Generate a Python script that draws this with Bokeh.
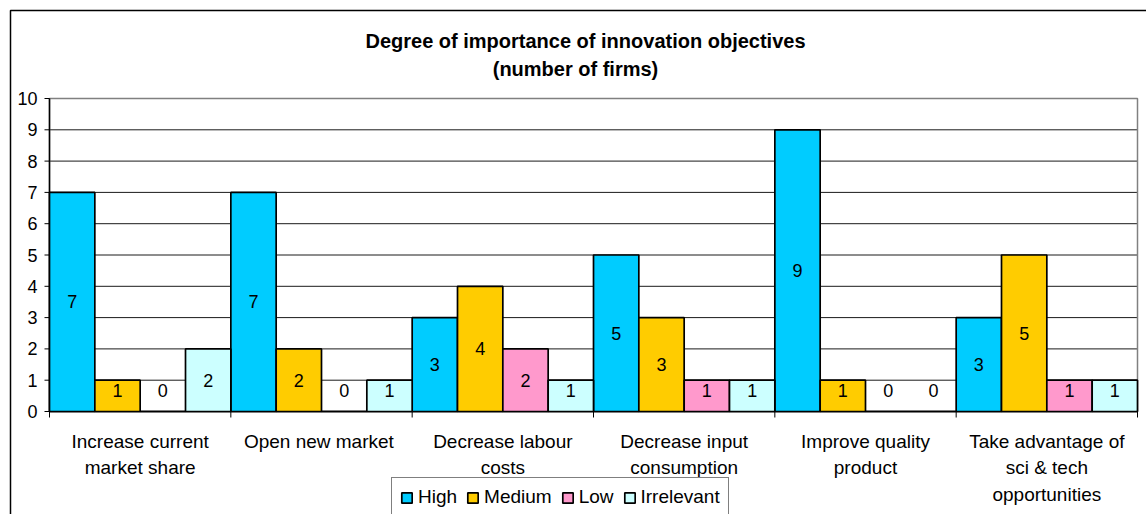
from bokeh.plotting import figure
from bokeh.models import Range1d, ColumnDataSource, Legend, LegendItem
from bokeh.core.properties import value
from bokeh.embed import file_html
from bokeh.resources import INLINE

categories = ["Increase current\nmarket share", "Open new  market", "Decrease labour\ncosts",
              "Decrease input\nconsumption", "Improve quality\nproduct",
              "Take advantage of\nsci & tech\nopportunities"]
series = ["High", "Medium", "Low", "Irrelevant"]
high = [7, 7, 3, 5, 9, 3]
medium = [1, 2, 4, 3, 1, 5]
low = [0, 0, 2, 1, 0, 1]
irrelevant = [2, 1, 1, 1, 0, 1]
colors = ["#00CCFF", "#FFCC00", "#FF99CC", "#CCFFFF"]
yticks = [0, 1, 2, 3, 4, 5, 6, 7, 8, 9, 10]
title_lines = ["Degree of importance of innovation objectives", "(number of firms)"]

FONT = "Liberation Sans"
n = len(categories)
W, H = 1146, 514
# plot-area placement in pixels
PL, PR, PT, PB = 49, 1137, 98, 411
YMAX = 10
UX = (PR - PL) / n          # pixels per category
UY = (PB - PT) / YMAX       # pixels per unit


def dx(px):
    return px / UX


def dy(px):
    return px / UY


p = figure(width=W, height=H, output_backend="svg", toolbar_location=None,
           title=None, x_axis_location=None, y_axis_location=None,
           x_range=Range1d(-dx(PL), dx(W - PL)), y_range=Range1d(-dy(H - PB), dy(PB)))
p.min_border = 0
p.min_border_left = 0
p.min_border_right = 0
p.min_border_top = 0
p.min_border_bottom = 0
p.outline_line_color = None
p.background_fill_color = "white"
p.border_fill_color = "white"
p.grid.visible = False

# outer chart border
p.quad(left=[-dx(PL - 10)], right=[dx(W + 20 - PL)], top=[dy(PB - 10)], bottom=[-dy(H + 20 - PB)],
       fill_color=None, line_color="black", line_width=1.5)

# gridlines
inner = [t for t in yticks if 0 < t < YMAX]
p.segment(x0=[0] * len(inner), x1=[n] * len(inner), y0=inner, y1=inner,
          line_color="#1a1a1a", line_width=1)
# plot-area border (grey top/right)
p.quad(left=[0], right=[n], bottom=[0], top=[YMAX], fill_color=None,
       line_color="#808080", line_width=1.5)

# y axis
p.segment(x0=[0], x1=[0], y0=[0], y1=[YMAX], line_color="black", line_width=1.5)
p.segment(x0=[-dx(5)] * len(yticks), x1=[0] * len(yticks), y0=yticks, y1=yticks,
          line_color="black", line_width=1)
p.text(x=[-dx(12)] * len(yticks), y=yticks, text=[str(t) for t in yticks],
       text_align="right", text_baseline="middle", text_font=value(FONT),
       text_font_size="18px", text_color="black")

# x axis
xt = list(range(n + 1))
p.segment(x0=[0], x1=[n], y0=[0], y1=[0], line_color="black", line_width=1.5)
p.segment(x0=xt, x1=xt, y0=[0] * len(xt), y1=[-dy(6)] * len(xt),
          line_color="black", line_width=1)
p.text(x=[i + 0.5 for i in range(n)], y=[-dy(430 - PB)] * n, text=categories,
       text_align="center", text_baseline="top", text_font=value(FONT),
       text_font_size="19px", text_color="black", text_line_height=1.27)

# bars and labels
data = [high, medium, low, irrelevant]
items = []
for j, (name, vals, col) in enumerate(zip(series, data, colors)):
    xs = [i + 0.125 + 0.25 * j for i in range(n)]
    src = ColumnDataSource(dict(x=xs, top=vals,
                                ly=[max(v / 2, 0.67) for v in vals],
                                lab=[str(v) for v in vals]))
    r = p.vbar(x="x", top="top", width=0.25, bottom=0, source=src,
               fill_color=col, line_color="black", line_width=1.7)
    p.text(x="x", y="ly", text="lab", source=src, text_align="center",
           text_baseline="middle", text_font=value(FONT), text_font_size="18px",
           text_color="black")
    items.append(LegendItem(label=name, renderers=[r]))

# title
p.text(x=[dx(585 - PL), dx(575 - PL)], y=[dy(PB - 40), dy(PB - 68)], text=title_lines,
       text_align="center", text_baseline="middle", text_font=value(FONT),
       text_font_size="20px", text_font_style="bold", text_color="black")

legend = Legend(items=items, orientation="horizontal", location=(391, -3))
legend.label_text_font = FONT
legend.label_text_font_size = "19px"
legend.label_text_color = "black"
legend.glyph_width = 13
legend.glyph_height = 13
legend.label_standoff = 5
legend.spacing = 9
legend.padding = 8
legend.margin = 0
legend.border_line_color = "black"
legend.border_line_width = 1
legend.background_fill_alpha = 1
p.add_layout(legend, "center")

open("out.html", "w").write(file_html(p, INLINE))
